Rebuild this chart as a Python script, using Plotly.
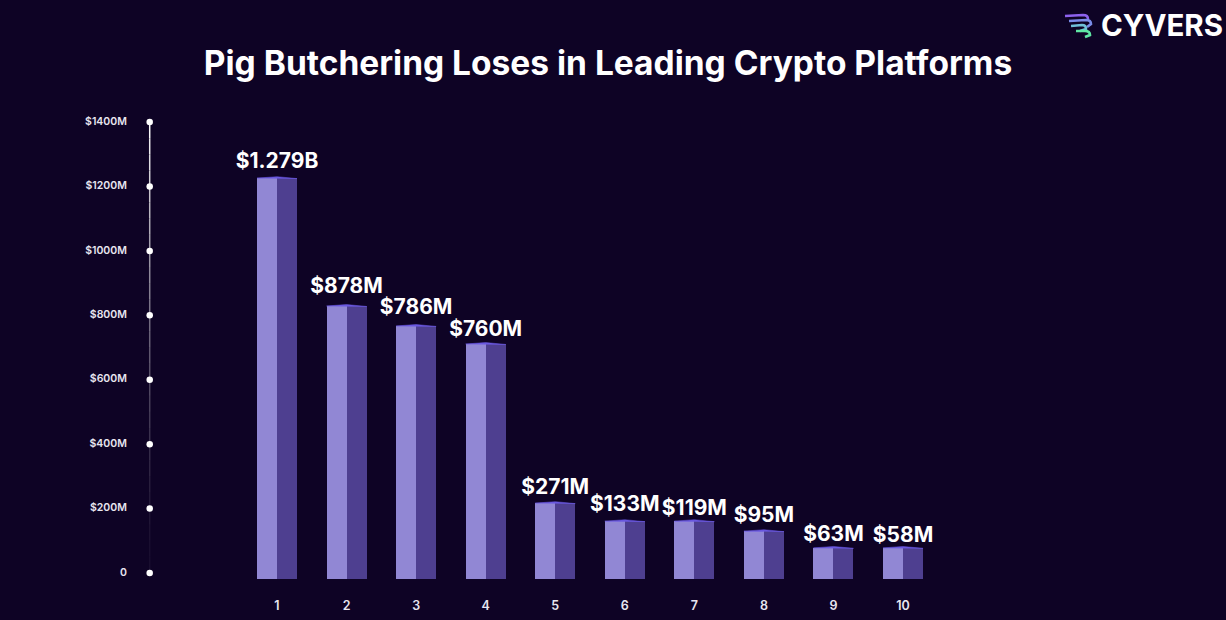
import plotly.graph_objects as go

ranks = list(range(1, 11))
bar_heights = [1226, 829, 767, 711, 217, 161, 161, 130, 78, 78]
label_text = ["$1.279B", "$878M", "$786M", "$760M", "$271M", "$133M", "$119M", "$95M", "$63M", "$58M"]
label_heights = [1273, 885, 820, 752, 261, 208, 196, 174, 115, 112]
tick_values = [0, 200, 400, 600, 800, 1000, 1200, 1400]
tick_labels = ["0", "$200M", "$400M", "$600M", "$800M", "$1000M", "$1200M", "$1400M"]

BG = "#0e0325"
LIGHT = "#9187d4"
DARK = "#4e3f90"
CAP = "#6a58e0"
FONT = "Inter"
BASE = -18.6
HALF = 0.2875
AXIS_X = -0.83

fig = go.Figure()

steps = 28
for k in range(steps):
    a = 1400 * k / steps
    b = 1400 * (k + 1) / steps
    alpha = 0.04 + 0.96 * ((k + 0.5) / steps) ** 1.6
    fig.add_trace(go.Scatter(x=[AXIS_X, AXIS_X], y=[a, b], mode="lines",
                             line=dict(color=f"rgba(255,255,255,{alpha:.3f})", width=1.5),
                             hoverinfo="skip", showlegend=False, cliponaxis=False))
fig.add_trace(go.Scatter(x=[AXIS_X] * len(tick_values), y=tick_values, mode="markers",
                         marker=dict(color="white", size=6.5), showlegend=False,
                         hoverinfo="skip", cliponaxis=False))

fig.add_trace(go.Bar(x=[r - HALF / 2 for r in ranks], y=[h - BASE for h in bar_heights], base=BASE,
                     width=HALF, marker=dict(color=LIGHT, line_width=0), showlegend=False))
fig.add_trace(go.Bar(x=[r + HALF / 2 for r in ranks], y=[h - BASE for h in bar_heights], base=BASE,
                     width=HALF, marker=dict(color=DARK, line_width=0), showlegend=False))

for r, h in zip(ranks, bar_heights):
    fig.add_trace(go.Scatter(x=[r - HALF, r, r + HALF, r - HALF],
                             y=[h, h + 4.5, h - 1.5, h], mode="lines", fill="toself",
                             fillcolor=CAP, line=dict(color=CAP, width=0.5),
                             hoverinfo="skip", showlegend=False))

fig.add_trace(go.Scatter(x=ranks, y=label_heights, text=label_text, mode="text",
                         textposition="middle center",
                         textfont=dict(color="white", size=21, family=FONT, weight=700),
                         hoverinfo="skip", showlegend=False, cliponaxis=False))


def px(x):
    return (x - 131) / 1095


def py(y):
    return (579 - y) / 479


def curve(start, ctrl, end, extra=None):
    p = (f"M {px(start[0]):.5f} {py(start[1]):.5f} "
         f"L {px(ctrl[0]):.5f} {py(ctrl[1]):.5f} "
         f"Q {px(end[0]):.5f} {py(ctrl[1]):.5f} {px(end[0]):.5f} {py(end[1]):.5f}")
    if extra:
        p += f" L {px(extra[0]):.5f} {py(extra[1]):.5f}"
    return p


logo = [
    (curve((1065, 16), (1083, 15), (1088, 19)), "#8d62ee"),
    (curve((1069, 21), (1086, 20), (1091, 24), (1087, 27)), "#7a8ce8"),
    (curve((1071, 26), (1082, 25), (1086, 29), (1080, 31)), "#6fc0d8"),
    (curve((1076, 31), (1085, 31), (1090, 35), (1085, 37)), "#5fe6a4"),
]
shapes = [dict(type="path", xref="paper", yref="paper", path=p,
               line=dict(color=c, width=2.6)) for p, c in logo]

fig.update_layout(
    width=1226, height=620, autosize=False,
    paper_bgcolor=BG, plot_bgcolor=BG,
    margin=dict(l=131, r=0, t=100, b=41),
    barmode="overlay", bargap=0, showlegend=False, shapes=shapes,
    title=dict(text="<b>Pig Butchering Loses in Leading Crypto Platforms</b>",
               x=608 / 1226, xanchor="center", y=1 - 63 / 620, yanchor="middle",
               font=dict(color="white", size=33.5, family=FONT)),
    annotations=[dict(text="<b>CYVERS</b>", xref="paper", yref="paper", x=px(1225), y=py(25),
                      xanchor="right", yanchor="middle", showarrow=False,
                      font=dict(color="white", size=29.5, family=FONT))],
    xaxis=dict(range=[-1.099, 14.643], tickmode="array", tickvals=ranks, ticktext=[str(r) for r in ranks],
               showgrid=False, zeroline=False, showline=False, ticks="outside", ticklen=15,
               tickcolor="rgba(0,0,0,0)", tickfont=dict(color="#e8e6f0", size=12.5, family=FONT, weight=600)),
    yaxis=dict(range=[BASE, 1468.5], tickmode="array", tickvals=tick_values, ticktext=tick_labels,
               ticklabelshift=-1,
               showgrid=False, zeroline=False, showline=False, ticks="outside", ticklen=1,
               tickcolor="rgba(0,0,0,0)", tickfont=dict(color="#e8e6f0", size=10.5, family=FONT, weight=600)),
)

fig.write_html("out.html", config=dict(displayModeBar=False),
               post_script=f"document.body.style.margin='0';document.body.style.background='{BG}';")
